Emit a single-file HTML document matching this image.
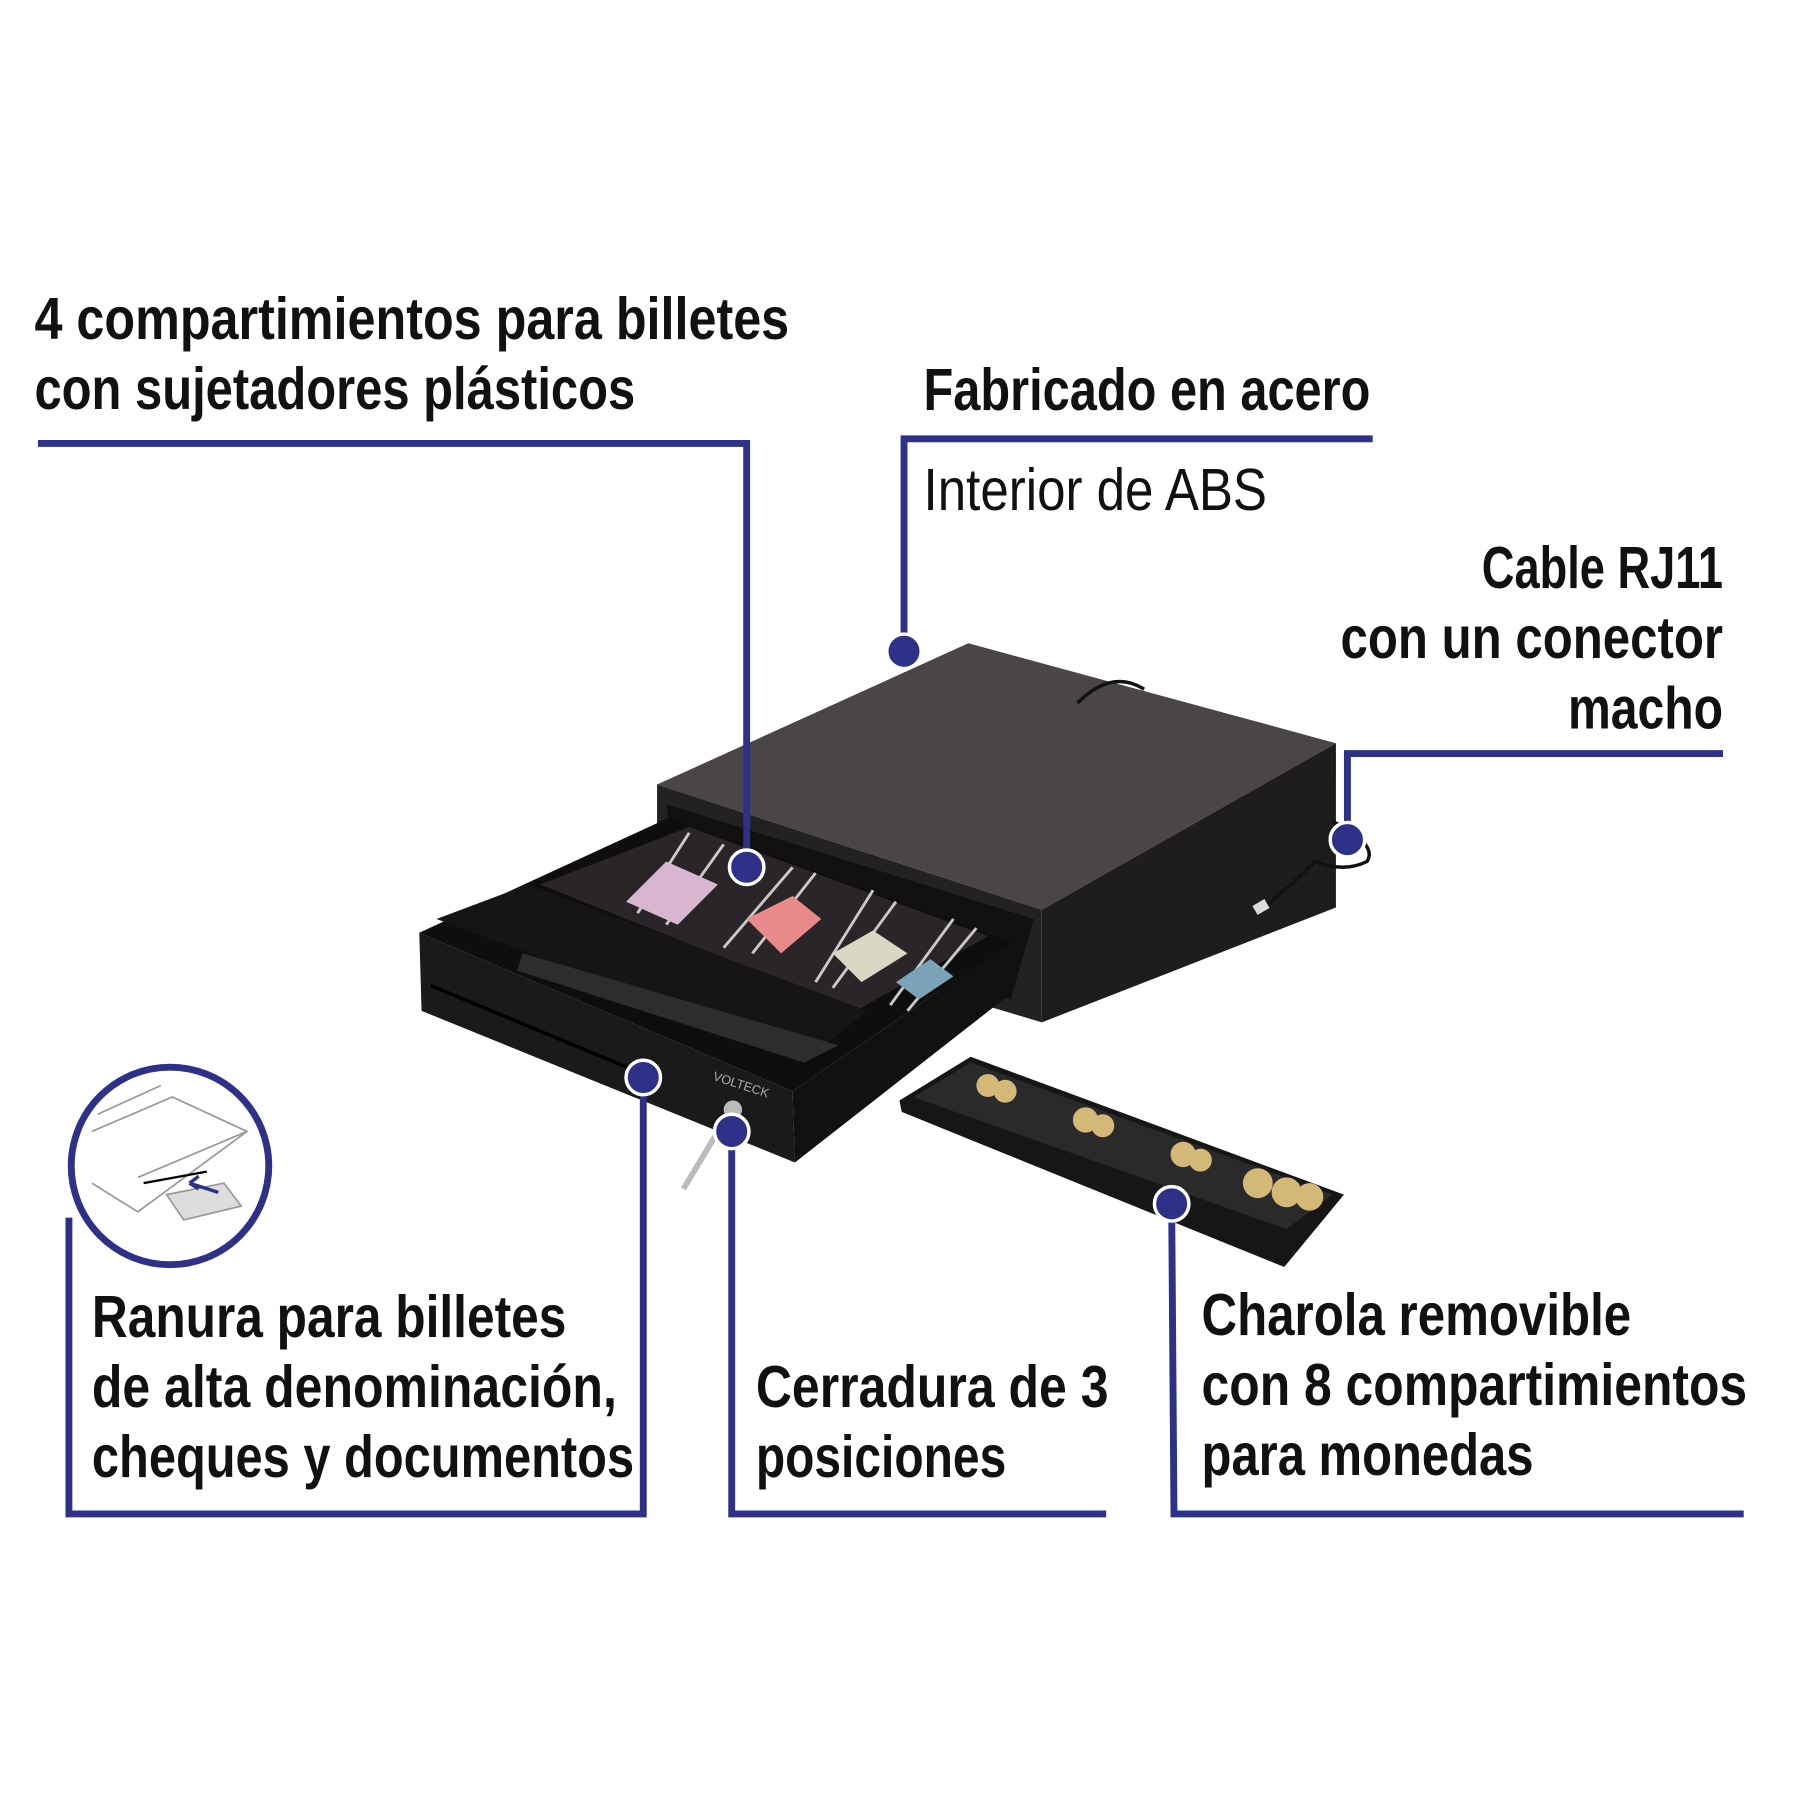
<!DOCTYPE html>
<html><head><meta charset="utf-8"><style>html,body{margin:0;padding:0;background:#fff}svg{display:block}</style></head>
<body>
<svg width="1800" height="1800" viewBox="0 0 1567 1567" xmlns="http://www.w3.org/2000/svg" font-family="Liberation Sans, sans-serif">
<rect width="1567" height="1567" fill="#fff"/>
<!-- main body -->
<polygon points="572,683 843,560 1163,647 907,792" fill="#4a4648"/>
<polygon points="907,792 1163,647 1163,790 907,890" fill="#1e1c1d"/>
<polygon points="572,683 907,792 907,890 572,790" fill="#222"/>
<polygon points="580,700 900,800 880,870 590,770" fill="#111"/>
<path d="M938,612 q30,-30 58,-12" stroke="#111" stroke-width="3" fill="none"/>
<!-- drawer -->
<polygon points="365,812 582,712 880,820 690,950" fill="#0e0e0e"/>
<polygon points="470,770 600,720 860,815 745,880" fill="#2a2528"/>
<g stroke="#c9c9c9" stroke-width="2.5">
<line x1="600" y1="725" x2="555" y2="795"/><line x1="630" y1="735" x2="580" y2="805"/>
<line x1="690" y1="755" x2="630" y2="825"/><line x1="710" y1="760" x2="655" y2="830"/>
<line x1="760" y1="775" x2="710" y2="855"/><line x1="780" y1="785" x2="725" y2="860"/>
<line x1="830" y1="800" x2="775" y2="875"/><line x1="850" y1="808" x2="790" y2="880"/>
</g>
<polygon points="545,785 580,750 625,770 590,805" fill="#d8b6cf"/>
<polygon points="650,800 690,780 715,800 680,830" fill="#e98a8a"/>
<polygon points="725,830 760,810 790,830 750,855" fill="#d9d8c4"/>
<polygon points="780,855 810,835 830,850 800,870" fill="#7aa3b8"/>
<polygon points="380,800 460,770 755,880 705,920" fill="#151515"/>
<polygon points="455,830 730,910 700,925 450,845" fill="#2d2d2d"/>
<polygon points="365,812 690,950 692,1012 367,880" fill="#1a1a1a"/>
<polygon points="690,950 880,820 880,865 692,1012" fill="#111"/>
<line x1="375" y1="858" x2="560" y2="935" stroke="#000" stroke-width="3"/>
<text x="620" y="940" font-size="11" fill="#aaa" transform="rotate(18 620 940)">VOLTECK</text>
<circle cx="638" cy="966" r="8" fill="#bbb"/>
<path d="M625,985 L595,1035" stroke="#bbb" stroke-width="5"/>
<!-- cable -->
<path d="M1160,715 q40,20 30,35 q-20,10 -45,0 q-20,20 -45,40" stroke="#111" stroke-width="3" fill="none"/>
<rect x="1092" y="785" width="12" height="9" fill="#ddd" transform="rotate(-30 1098 790)"/>
<!-- coin tray -->
<polygon points="783,958 845,920 1170,1040 1118,1103 785,968" fill="#161616"/>
<polygon points="795,955 845,925 1160,1040 1120,1070" fill="#2a2a2a"/>
<g fill="#d4b878"><circle cx="860" cy="945" r="10"/><circle cx="875" cy="950" r="10"/><circle cx="945" cy="975" r="11"/><circle cx="960" cy="980" r="10"/><circle cx="1030" cy="1005" r="11"/><circle cx="1045" cy="1010" r="10"/><circle cx="1095" cy="1030" r="13"/><circle cx="1120" cy="1038" r="13"/><circle cx="1140" cy="1042" r="12"/></g>
<!-- connectors -->
<g stroke="#2d3188" stroke-width="6" fill="none">
<polyline points="33,386 650,386 650,755"/>
<polyline points="1195,382 787,382 787,567"/>
<polyline points="1500,656 1173,656 1173,731"/>
<polyline points="60,1060 60,1318 560,1318 560,938"/>
<polyline points="637,985 637,1318 963,1318"/>
<polyline points="1020,1048 1022,1318 1518,1318"/>
</g>
<g fill="#2d3188" stroke="#fff" stroke-width="3">
<circle cx="650" cy="755" r="15"/><circle cx="787" cy="567" r="15"/><circle cx="1173" cy="731" r="15"/>
<circle cx="560" cy="938" r="15"/><circle cx="637" cy="985" r="15"/><circle cx="1020" cy="1048" r="15"/>
</g>
<!-- inset circle -->
<circle cx="148" cy="1015" r="86" fill="#fff" stroke="#2d3188" stroke-width="6"/>
<g stroke="#999" stroke-width="1.5" fill="none">
<polyline points="80,985 150,955 215,985 120,1055 80,1030"/><line x1="120" y1="1025" x2="215" y2="985"/>
<line x1="85" y1="970" x2="140" y2="945"/><polygon points="145,1040 195,1030 210,1050 160,1062" fill="#ddd"/>
</g>
<line x1="125" y1="1030" x2="180" y2="1020" stroke="#000" stroke-width="2"/>
<path d="M190,1038 l-25,-8 m0,0 l8,-6 m-8,6 l8,5" stroke="#2d3188" stroke-width="3" fill="none"/>
<!-- text -->
<g font-size="52" fill="#111" font-weight="bold">
<text x="30" y="295" textLength="657" lengthAdjust="spacingAndGlyphs">4 compartimientos para billetes</text>
<text x="30" y="356" textLength="523" lengthAdjust="spacingAndGlyphs">con sujetadores plásticos</text>
<text x="804" y="357" textLength="389" lengthAdjust="spacingAndGlyphs">Fabricado en acero</text>
<text x="1290" y="512" textLength="210" lengthAdjust="spacingAndGlyphs">Cable RJ11</text>
<text x="1167" y="573" textLength="333" lengthAdjust="spacingAndGlyphs">con un conector</text>
<text x="1365" y="634" textLength="135" lengthAdjust="spacingAndGlyphs">macho</text>
<text x="80" y="1164" textLength="413" lengthAdjust="spacingAndGlyphs">Ranura para billetes</text>
<text x="80" y="1225" textLength="457" lengthAdjust="spacingAndGlyphs">de alta denominación,</text>
<text x="80" y="1286" textLength="472" lengthAdjust="spacingAndGlyphs">cheques y documentos</text>
<text x="658" y="1225" textLength="307" lengthAdjust="spacingAndGlyphs">Cerradura de 3</text>
<text x="658" y="1286" textLength="218" lengthAdjust="spacingAndGlyphs">posiciones</text>
<text x="1046" y="1162" textLength="374" lengthAdjust="spacingAndGlyphs">Charola removible</text>
<text x="1046" y="1223" textLength="475" lengthAdjust="spacingAndGlyphs">con 8 compartimientos</text>
<text x="1046" y="1284" textLength="289" lengthAdjust="spacingAndGlyphs">para monedas</text>
</g>
<text x="804" y="444" font-size="52" fill="#111" textLength="299" lengthAdjust="spacingAndGlyphs">Interior de ABS</text>
</svg>
</body></html>
